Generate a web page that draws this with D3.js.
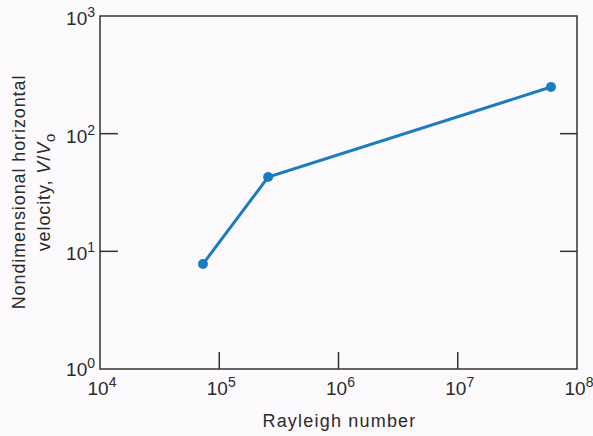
<!DOCTYPE html>
<html>
<head>
<meta charset="utf-8">
<script src="https://cdn.jsdelivr.net/npm/d3@7"></script>
<style>
  body { margin: 0; background: #fcfafc; }
  text { font-family: "Liberation Sans", Arial, sans-serif; fill: #2a2a2a; }
</style>
</head>
<body>
<div class="chart"></div>
<script>
var svgWidth = 593;
var svgHeight = 436;

var margin = { top: 16, right: 16, bottom: 67, left: 100 };
var width = svgWidth - margin.left - margin.right;
var height = svgHeight - margin.top - margin.bottom;

// data
var rayleigh = [7.3e4, 2.57e5, 6.05e7];
var velocity = [7.8, 42.8, 249];
var xTickExps = [4, 5, 6, 7, 8];
var yTickExps = [0, 1, 2, 3];

var svg = d3.select(".chart")
  .append("svg")
  .attr("width", svgWidth)
  .attr("height", svgHeight);

var chartGroup = svg.append("g")
  .attr("transform", `translate(${margin.left}, ${margin.top})`);

var xScale = d3.scaleLog().domain([1e4, 1e8]).range([0, width]);
var yScale = d3.scaleLog().domain([1, 1e3]).range([height, 0]);

// frame
chartGroup.append("rect")
  .attr("width", width)
  .attr("height", height)
  .attr("fill", "none")
  .attr("stroke", "#333")
  .attr("stroke-width", 1.5);

// inner ticks: bottom
var inner = xTickExps.slice(1, -1);
chartGroup.selectAll(".xtick")
  .data(inner)
  .enter()
  .append("line")
  .attr("x1", d => xScale(Math.pow(10, d)))
  .attr("x2", d => xScale(Math.pow(10, d)))
  .attr("y1", height)
  .attr("y2", height - 17)
  .attr("stroke", "#333")
  .attr("stroke-width", 1.5);

// inner ticks: left and right
var innerY = yTickExps.slice(1, -1);
chartGroup.selectAll(".ytickL")
  .data(innerY)
  .enter()
  .append("line")
  .attr("x1", 0)
  .attr("x2", 18)
  .attr("y1", d => yScale(Math.pow(10, d)))
  .attr("y2", d => yScale(Math.pow(10, d)))
  .attr("stroke", "#333")
  .attr("stroke-width", 1.5);

chartGroup.selectAll(".ytickR")
  .data(innerY)
  .enter()
  .append("line")
  .attr("x1", width)
  .attr("x2", width - 17)
  .attr("y1", d => yScale(Math.pow(10, d)))
  .attr("y2", d => yScale(Math.pow(10, d)))
  .attr("stroke", "#333")
  .attr("stroke-width", 1.5);

// x tick labels
var xLabels = chartGroup.selectAll(".xlabel")
  .data(xTickExps)
  .enter()
  .append("text")
  .attr("x", d => xScale(Math.pow(10, d)) + 2)
  .attr("y", height + 26)
  .attr("text-anchor", "middle")
  .style("font-size", "19px");
xLabels.append("tspan").text("10");
xLabels.append("tspan")
  .attr("dy", -8)
  .style("font-size", "14px")
  .text(d => d);

// y tick labels
var yLabels = chartGroup.selectAll(".ylabel")
  .data(yTickExps)
  .enter()
  .append("text")
  .attr("x", -5)
  .attr("y", d => yScale(Math.pow(10, d)) + (d === 0 ? 7 : 9))
  .attr("text-anchor", "end")
  .style("font-size", "19px");
yLabels.append("tspan").text("10");
yLabels.append("tspan")
  .attr("dy", -8)
  .style("font-size", "14px")
  .text(d => d);

// line and points
var line = d3.line()
  .x((d, i) => xScale(rayleigh[i]))
  .y(d => yScale(d));

chartGroup.append("path")
  .datum(velocity)
  .attr("d", line)
  .attr("fill", "none")
  .attr("stroke", "#1a7dbf")
  .attr("stroke-width", 3);

chartGroup.selectAll("circle")
  .data(velocity)
  .enter()
  .append("circle")
  .attr("cx", (d, i) => xScale(rayleigh[i]))
  .attr("cy", d => yScale(d))
  .attr("r", 5)
  .attr("fill", "#1a7dbf");

// x axis title
chartGroup.append("text")
  .attr("x", width / 2 + 1)
  .attr("y", height + 58)
  .attr("text-anchor", "middle")
  .style("font-size", "18px")
  .style("letter-spacing", "1.2px")
  .text("Rayleigh number");

// y axis title, two lines
var yTitle = chartGroup.append("text")
  .attr("transform", "rotate(-90)")
  .attr("text-anchor", "middle")
  .style("font-size", "18px")
  .style("letter-spacing", "0.9px");
yTitle.append("tspan")
  .attr("x", -176)
  .attr("y", -75)
  .text("Nondimensional horizontal");
var line2 = yTitle.append("tspan")
  .attr("x", -176)
  .attr("y", -50);
line2.append("tspan").text("velocity, ");
line2.append("tspan").style("font-style", "italic").text("V");
line2.append("tspan").text("/");
line2.append("tspan").style("font-style", "italic").text("V");
line2.append("tspan").attr("dy", 5).style("font-size", "15px").text("o");
</script>
</body>
</html>
